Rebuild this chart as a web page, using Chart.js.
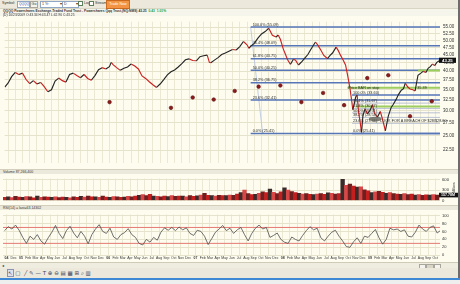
<!doctype html>
<html lang="en">
<head>
<meta charset="utf-8">
<title>QQQQ daily chart</title>
<script src="https://cdn.jsdelivr.net/npm/chart.js@4.4.1/dist/chart.umd.min.js"></script>
<style>
    body {
        margin: 0; width: 460px; height: 284px; overflow: hidden; position: relative;
        background: #ebe8da; font-family: "Liberation Sans", Arial, sans-serif; color: #333;
    }
    .abs { position: absolute; }
    canvas { position: absolute; left: 0; background: #fdfcef; }
    #toolbar { left: 0; top: 0; width: 458px; height: 8px; background: #ece9dc; border-bottom: 1px solid #d9d5c3; font-size: 3.6px; }
    #toolbar div { position: absolute; top: 1px; height: 5px; line-height: 5px; white-space: nowrap; }
    .box { background: #fff; border: 1px solid #8fa6c4; }
    .btn { background: #f4f3ee; border: 1px solid #a9a79c; text-align: center; }
    .chk { display: inline-block; width: 3px; height: 3px; border: 1px solid #5d7e5d; background: #fff; vertical-align: middle; margin-right: 1px; }
    #info { left: 0; top: 9px; width: 458px; height: 7px; background: #f6f5ec; }
    #title { left: 3px; top: 9px; font-size: 3.3px; font-weight: bold; white-space: nowrap; line-height: 4px; }
    #ohlc { left: 3px; top: 13.5px; font-size: 3.3px; white-space: nowrap; line-height: 3.5px; z-index: 3; }
    .band { left: 0; width: 455px; height: 5px; background: #ebe9dc; border-top: 1px solid #d3cfbc; font-size: 3.5px; line-height: 5px; padding-left: 3px; }
    #scroll { left: 0; top: 262px; width: 458px; height: 6px; background: #efece0; border-top: 1px solid #cfcbb8; }
    #tools { left: 0; top: 268px; width: 458px; height: 10px; background: #ece9dc; font-family: "DejaVu Sans"; font-size: 5.5px; line-height: 10px; color: #3c4660; }
    #edge { left: 458px; top: 0; width: 2px; height: 280px; background: #6d6d6d; }
    #blue { left: 0; top: 278px; width: 460px; height: 2px; background: #3f88d6; }
    #under { left: 0; top: 280px; width: 460px; height: 4px; background: #eeeeee; }
    #millions { left: 452px; top: 193px; font-size: 3.2px; transform: rotate(-90deg); transform-origin: left top; white-space: nowrap; }
</style>
</head>
<body>

<div id="toolbar" class="abs">
    <div style="left:2px">Symbol:</div>
    <div class="box" style="left:17px;width:10px;color:#1a3fa0;font-size:3.2px;padding-left:1px">QQQQ</div>
    <div class="btn" style="left:30px;width:6px">Go</div>
    <div class="box" style="left:40px;width:20px;padding-left:1px">1 Yr <span style="float:right">▾</span></div>
    <div class="box" style="left:62px;width:14px;padding-left:1px">D <span style="float:right">▾</span></div>
    <div style="left:78px"><span class="chk"></span>Log</div>
    <div style="left:89px"><span class="chk"></span>Stream</div>
    <div style="left:106px;top:0;height:7px;line-height:7px;width:22px;background:#f29444;border:1px solid #c96a1e;color:#fff;text-align:center">Trade Now</div>
</div>
<div id="info" class="abs"></div>
<div id="title" class="abs">QQQQ Powershares Exchange-Traded Fund Trust - Powershares Qqq Trust,(NQ:NMS) 43.25 &nbsp;<span style="color:#2aa02a">0.43 &nbsp;1.01%</span></div>
<div id="ohlc" class="abs">(D) 10/23/2009 O:43.34 H:43.47 L:42.96 C:43.25</div>

<canvas id="price" width="458" height="153" style="top:16px"></canvas>
<div class="band abs" style="top:169px">Volume 87,266,400</div>
<canvas id="vol" width="458" height="31" style="top:174px"></canvas>
<div id="millions" class="abs">Millions</div>
<div class="band abs" style="top:205px">RSI(14) = last=63.14302</div>
<canvas id="rsi" width="458" height="52" style="top:210px"></canvas>

<div id="scroll" class="abs">
    <span class="abs" style="left:2px;top:0;font-size:4px">◂</span>
    <span class="abs btn" style="left:419px;top:0.5px;width:5px;height:4px"></span>
    <span class="abs btn" style="left:426px;top:0.5px;width:6px;height:4px;background:#d9d6c8"></span>
    <span class="abs btn" style="left:434px;top:0.5px;width:5px;height:4px"></span>
</div>
<div id="tools" class="abs"><span style="margin-left:7px;border:1px solid #8a93b3;background:#dfe2ee">↖</span> ▢ &nbsp;╱ ✎ — T ⊕ ⊖ ▤ ▦ ⊞ ⌕ ▥</div>
<div id="edge" class="abs"></div>
<div id="blue" class="abs"></div>
<div id="under" class="abs"></div>

<script>
    // months counted from Nov 2004 (0 = Nov 2004, 2 = Jan 2005 ... 59 = Oct 2009)
    const monthNames = ['Jan', 'Feb', 'Mar', 'Apr', 'May', 'Jun', 'Jul', 'Aug', 'Sep', 'Oct', 'Nov', 'Dec'];
    const xMin = -0.47, xMax = 59.64;

    const priceMonths = [-0.45, 0, 0.5, 1, 1.5, 2, 2.5, 3, 3.5, 4, 4.5, 5, 5.5, 6, 6.5, 7, 7.5, 8, 8.5, 9,
        9.5, 10, 10.5, 11, 11.5, 12, 12.5, 13, 13.5, 14, 14.25, 14.5, 15, 15.5, 16, 16.5, 17, 17.5, 18, 18.5,
        19, 19.5, 20, 20.5, 21, 21.5, 22, 22.5, 23, 23.5, 24, 24.5, 25, 25.5, 26, 26.5, 27, 27.5, 27.8, 28,
        28.5, 29, 29.5, 30, 30.5, 31, 31.5, 32, 32.5, 33, 33.25, 33.5, 34, 34.5, 35, 35.5, 36, 36.5, 37, 37.3,
        37.6, 38, 38.3, 38.6, 39, 39.4, 39.7, 40.1, 40.6, 41, 41.4, 41.8, 42.1, 42.45, 42.8, 43.2, 43.6, 44.1, 44.5, 44.8,
        45.3, 45.6, 45.9, 46.3, 46.6, 46.9, 47.2, 47.45, 47.6, 47.8, 48, 48.2, 48.4, 48.6, 48.8, 49, 49.3, 49.6, 50, 50.3,
        50.6, 51, 51.4, 51.7, 52.1, 52.5, 52.9, 53.2, 53.6, 53.9, 54.3, 54.6, 54.85, 55.2, 55.5, 55.9, 56.2, 56.6, 57, 57.3,
        57.7, 58, 58.3, 58.6, 58.9, 59.2, 59.64];
    const priceValues = [35.6, 36.6, 38.4, 39.6, 39.0, 39.4, 37.6, 36.5, 37.3, 36.4, 36.8, 35.7, 34.4, 34.9, 37.2, 38.0, 37.3, 36.9, 39.0, 39.4,
        38.7, 38.1, 39.0, 37.9, 37.4, 38.7, 40.4, 41.0, 40.6, 41.3, 42.6, 41.9, 41.0, 40.2, 40.8, 41.2, 42.1, 41.5, 40.6, 38.6,
        37.9, 37.0, 36.2, 35.5, 36.4, 37.6, 38.9, 39.8, 40.3, 41.2, 42.2, 43.4, 43.7, 43.2, 43.1, 44.4, 44.7, 44.9, 42.6, 42.5,
        43.3, 44.1, 45.1, 45.6, 46.2, 46.8, 46.6, 47.8, 49.6, 48.4, 47.2, 47.9, 48.9, 50.8, 52.4, 53.3, 54.6, 51.9, 51.2, 52.0,
        50.4, 47.0, 45.2, 43.4, 42.0, 43.6, 43.3, 41.8, 42.9, 44.0, 45.1, 46.8, 48.0, 49.4, 48.2, 46.5, 44.8, 43.8, 44.9, 45.6,
        47.6, 46.4, 44.9, 43.2, 41.8, 38.6, 35.4, 32.2, 30.2, 31.5, 33.1, 33.6, 29.6, 27.8, 25.6, 28.9, 30.4, 29.3, 30.1, 31.3,
        29.4, 28.6, 29.8, 28.2, 25.9, 28.8, 30.7, 31.4, 32.6, 33.7, 34.8, 35.2, 36.6, 35.6, 35.1, 34.9, 34.6, 38.8, 39.4, 39.9,
        39.6, 40.8, 41.3, 42.1, 41.6, 42.6, 43.25];

    // red dots drawn on the price panel
    const dotMonths = [14.02, 22.5, 25.5, 28.4, 31.3, 34.6, 37.6, 40.5, 43.5, 46.4, 49.6, 52.5, 55.5, 58.5];
    const dotValues = [31.9, 30.6, 33.0, 32.5, 34.6, 35.7, 36.0, 31.9, 34.1, 31.2, 38.0, 38.8, 28.8, 32.1];

    // fibonacci retracement, Oct 2007 high to Nov 2008 low
    const fibNames = ['100.0%', '76.4%', '61.8%', '50.0%', '38.2%', '23.6%', '0.0%'];
    const fibLevels = [55.09, 48.09, 43.75, 40.25, 36.75, 32.41, 25.41];
    const fibStart = 33.5, fibLowMonth = 35.15;
    // second retracement, Nov 2008 bounce to low
    const fib2Levels = [33.60, 31.67, 30.47, 29.51, 28.54, 27.34, 25.41];
    const fib2Start = 47.5;
    const fib2Note = 'LOOK FOR A BREACH OF $28/$28.60';
    // user drawn green lines
    const greenLevels = [35.39, 30.88, 40.15];
    const greenStarts = [46.85, 48.0, 56.6];
    const greenNote = 'Price BAR on stop';
    const ellipseAt = [50.7, 28.2];

    const priceTicks = [22.5, 25, 27.5, 30, 32.5, 35, 37.5, 40, 42.5, 45, 47.5, 50, 52.5, 55];

    // volume in millions, every half month from m = -0.25
    const volStart = -0.25, volStep = 0.5;
    const volume = [95, 110, 85, 120, 100, 90, 115, 105, 80, 125, 95, 110, 100,
        90, 105, 85, 100, 95, 80, 110, 90, 120, 100, 130, 105,
        110, 95, 125, 100, 90, 115, 105, 95, 100, 120, 110, 130,
        150, 170, 140, 180, 130, 120, 110, 125, 115, 140, 120, 130,
        125, 110, 140, 120, 135, 160, 210, 150, 140, 130, 150, 145,
        140, 160, 150, 190, 230, 300, 200, 170, 180, 210, 250, 230,
        330, 240, 200, 250, 370, 300, 260, 230, 210, 190, 200, 180,
        175, 190, 200, 180, 220, 210, 190, 200, 620, 440, 480, 420,
        390, 400, 310, 280, 230, 250, 270, 240, 210, 230, 200, 190,
        180, 200, 170, 190, 160, 175, 150, 165, 155, 170, 158];
    const volLast = 157.78;
    const volTicks = [0, 100, 200, 300, 400, 500, 600];

    // RSI(14), same half month grid
    const rsi = [62, 72, 66, 76, 63, 45, 30, 48, 40, 52, 36, 28, 44, 58, 75, 55, 42, 62, 73, 56,
        44, 60, 48, 29, 52, 66, 77, 60, 55, 68, 46, 40, 52, 57, 67, 52, 45, 30, 26, 40,
        33, 45, 38, 58, 69, 63, 70, 62, 71, 64, 69, 55, 50, 63, 60, 48, 27, 42, 58, 66,
        75, 62, 68, 55, 64, 70, 52, 36, 55, 68, 76, 66, 70, 45, 50, 56, 40, 33, 30, 46,
        40, 36, 50, 62, 72, 64, 68, 44, 36, 48, 58, 63, 48, 36, 22, 20, 34, 44, 30, 48,
        45, 55, 65, 44, 28, 40, 68, 64, 66, 60, 64, 48, 46, 58, 76, 66, 60, 70, 74, 56, 63];
    const rsiLevels = [70, 30];
    const rsiTicks = [0, 10, 20, 30, 40, 50, 60, 70, 80, 90, 100];

    const RED = '#cc2222', DARK = '#262626', GRID = '#e6e3cd', FIB = '#5676b8';
    Chart.defaults.font.family = '"Liberation Sans", Arial, sans-serif';
    Chart.defaults.color = '#333';

    const monthTicks = [];
    for (let m = 0; m <= 59; m++) monthTicks.push(m);

    function isYear(v) { return v === 0 || (10 + v) % 12 === 0; }

    function xScale(showLabels) {
        return {
            type: 'linear', min: xMin, max: xMax, offset: false,
            afterBuildTicks: s => { s.ticks = monthTicks.map(v => ({value: v})); },
            grid: {color: '#ebe8d3', drawTicks: false, offset: false},
            border: {display: false},
            ticks: {
                display: showLabels, autoSkip: false, maxRotation: 0, padding: 0.8, color: '#3a3a3a',
                font: c => ({size: 3.5, weight: (c && c.tick && isYear(c.tick.value)) ? 'bold' : 'normal'}),
                callback: v => isYear(v) ? String(2004 + Math.floor((10 + v) / 12)).slice(2) : monthNames[(10 + v) % 12]
            },
            afterFit: s => { s.height = showLabels ? 6.7 : 0; }
        };
    }

    function yScale(ticks, extra) {
        return Object.assign({
            position: 'right',
            afterBuildTicks: s => { s.ticks = ticks.map(v => ({value: v})); },
            grid: {color: GRID, drawTicks: false},
            border: {display: false},
            ticks: {font: {size: 4.5}, padding: 3},
            afterFit: s => { s.width = 18; }
        }, extra);
    }

    const common = {
        responsive: false, animation: false, devicePixelRatio: 1,
        layout: {padding: {left: 3, right: 0, top: 0, bottom: 0}},
        plugins: {legend: {display: false}, tooltip: {enabled: false}}
    };

    function flat(level, from) {
        return [{x: from, y: level}, {x: xMax, y: level}];
    }

    // ---------------- price panel ----------------
    const priceSets = [];
    priceSets.push({
        type: 'line', data: priceMonths.map((m, i) => ({x: m, y: priceValues[i]})),
        borderWidth: 1.15, pointRadius: 0, borderColor: DARK, order: 1,
        segment: {borderColor: c => c.p1.parsed.y < c.p0.parsed.y ? RED : DARK}
    });
    priceSets.push({
        type: 'scatter', data: dotMonths.map((m, i) => ({x: m, y: dotValues[i]})),
        pointRadius: 1.8, backgroundColor: '#8e1b1b', borderColor: '#5e1010', borderWidth: 0.6, order: 0
    });
    fibLevels.forEach(lv => priceSets.push({
        type: 'line', data: flat(lv, fibStart), borderColor: FIB, borderWidth: 1.5, pointRadius: 0, order: 6
    }));
    priceSets.push({
        type: 'line', data: [{x: fibStart, y: fibLevels[0]}, {x: fibLowMonth, y: fibLevels[6]}],
        borderColor: '#b3c2de', borderWidth: 0.8, pointRadius: 0, order: 6
    });
    fib2Levels.forEach((lv, i) => priceSets.push({
        type: 'line', data: flat(lv, fib2Start),
        borderColor: (i === 0 || i === 6) ? FIB : '#a9b3cb', borderWidth: (i === 0 || i === 6) ? 1.5 : 0.8,
        pointRadius: 0, order: 6
    }));
    greenLevels.forEach((lv, i) => priceSets.push({
        type: 'line', data: flat(lv, greenStarts[i]), borderColor: '#9ccd5e', borderWidth: 2, pointRadius: 0, order: 5
    }));

    const priceOverlay = {
        id: 'priceOverlay',
        afterDatasetsDraw(chart) {
            const {ctx, scales: {x, y}} = chart;
            ctx.save();
            ctx.font = '3.8px "Liberation Sans"';
            ctx.fillStyle = '#2d2d2d';
            ctx.textBaseline = 'bottom';
            fibLevels.forEach((lv, i) => {
                ctx.fillText(fibNames[i] + ' (' + lv.toFixed(2) + ')', x.getPixelForValue(fibStart) + 2, y.getPixelForValue(lv) - 0.6);
            });
            fib2Levels.forEach((lv, i) => {
                let t = fibNames[i] + ' (' + lv.toFixed(2) + ')';
                if (i === 5) t += '   ' + fib2Note;
                ctx.fillText(t, x.getPixelForValue(fib2Start) + 1, y.getPixelForValue(lv) - 0.4);
            });
            ctx.textBaseline = 'middle';
            ctx.fillText(greenNote, x.getPixelForValue(greenStarts[0]) + 1, y.getPixelForValue(greenLevels[0]));
            ctx.fillText(greenLevels[0].toFixed(2), x.getPixelForValue(56.5), y.getPixelForValue(greenLevels[0]) - 0.4);
            // shaded ellipse near the March 2009 low
            ctx.fillStyle = 'rgba(90,90,82,0.75)';
            ctx.beginPath();
            ctx.ellipse(x.getPixelForValue(ellipseAt[0]), y.getPixelForValue(ellipseAt[1]), 6.5, 2.4, 0, 0, Math.PI * 2);
            ctx.fill();
            ctx.restore();
        },
        afterDraw(chart) {
            const {ctx, chartArea, scales: {y}} = chart;
            const last = priceValues[priceValues.length - 1];
            const py = y.getPixelForValue(last);
            ctx.save();
            ctx.fillStyle = '#111';
            ctx.fillRect(chartArea.right - 1, py - 2.6, 17, 5.2);
            ctx.fillStyle = '#fff';
            ctx.font = 'bold 4.3px "Liberation Sans"';
            ctx.textBaseline = 'middle';
            ctx.fillText(last.toFixed(2), chartArea.right + 2, py + 0.2);
            ctx.restore();
        }
    };

    new Chart(document.getElementById('price'), {
        data: {datasets: priceSets},
        options: Object.assign({}, common, {
            scales: {
                x: xScale(false),
                y: yScale(priceTicks, {
                    type: 'logarithmic', min: 20.44, max: 57.27,
                    ticks: {font: {size: 4.5}, padding: 3, callback: v => Number(v).toFixed(2)}
                })
            }
        }),
        plugins: [priceOverlay]
    });

    // ---------------- volume panel ----------------
    const volColors = ['#c41f1f', '#3a2b2b', '#d84646', '#6e1f1f'];
    const volBox = {
        id: 'volBox',
        afterDraw(chart) {
            const {ctx, chartArea, scales: {y}} = chart;
            const py = y.getPixelForValue(volLast);
            ctx.save();
            ctx.fillStyle = '#111';
            ctx.fillRect(chartArea.right - 1, py - 2.3, 19, 4.6);
            ctx.fillStyle = '#fff';
            ctx.font = 'bold 3.6px "Liberation Sans"';
            ctx.textBaseline = 'middle';
            ctx.fillText(volLast.toFixed(2) + 'M', chartArea.right + 1, py + 0.2);
            ctx.restore();
        }
    };
    new Chart(document.getElementById('vol'), {
        type: 'bar',
        data: {
            datasets: [{
                data: volume.map((v, i) => ({x: volStart + i * volStep, y: v})),
                backgroundColor: volume.map((v, i) => volColors[i % volColors.length]),
                barPercentage: 1, categoryPercentage: 1, borderWidth: 0
            }]
        },
        options: Object.assign({}, common, {
            scales: {
                x: xScale(false),
                y: yScale(volTicks, {type: 'linear', min: 0, max: 641, ticks: {font: {size: 4.2}, padding: 2}})
            }
        }),
        plugins: [volBox]
    });

    // ---------------- RSI panel ----------------
    const rsiSets = [{
        data: rsi.map((v, i) => ({x: volStart + i * volStep, y: v})),
        borderColor: '#4d4d4d', borderWidth: 0.8, pointRadius: 0, order: 0
    }];
    rsiLevels.forEach(lv => rsiSets.push({
        data: flat(lv, xMin), borderColor: '#e47a72', borderWidth: 1, pointRadius: 0, order: 2
    }));
    new Chart(document.getElementById('rsi'), {
        type: 'line',
        data: {datasets: rsiSets},
        options: Object.assign({}, common, {
            scales: {
                x: xScale(true),
                y: yScale(rsiTicks, {type: 'linear', min: 0, max: 102.8, ticks: {font: {size: 4}, padding: 2}})
            }
        })
    });
</script>
</body>
</html>
